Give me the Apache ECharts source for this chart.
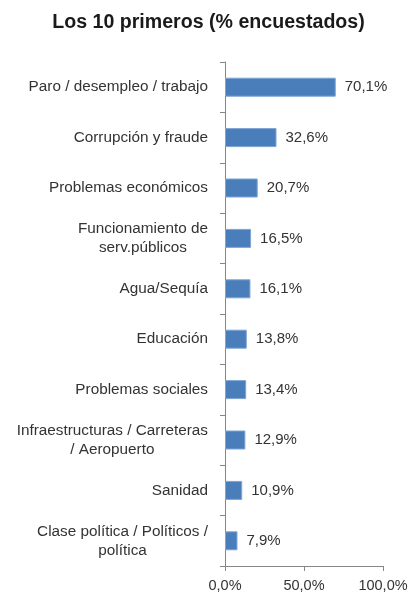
<!DOCTYPE html>
<html lang="es">
  <head>
    <meta charset="UTF-8" />
    <title>Los 10 primeros</title>
    <script src="https://cdn.jsdelivr.net/npm/echarts@6/dist/echarts.min.js"></script>
    <style>
      html, body { margin: 0; padding: 0; background: #fff; }
      #main { width: 417px; height: 598px; }
    </style>
  </head>
  <body>
    <div id="main"></div>
    <script>
      const categories = [
        'Paro / desempleo / trabajo',
        'Corrupción y fraude',
        'Problemas económicos',
        'Funcionamiento de\nserv.públicos',
        'Agua/Sequía',
        'Educación',
        'Problemas sociales',
        'Infraestructuras / Carreteras\n/ Aeropuerto',
        'Sanidad',
        'Clase política / Políticos /\npolítica'
      ]
      const values = [70.1, 32.6, 20.7, 16.5, 16.1, 13.8, 13.4, 12.9, 10.9, 7.9]
      const xTicks = [0, 50, 100]

      const fmt = (v) => v.toFixed(1).replace('.', ',') + '%'
      const font = 'Liberation Sans, Arial, sans-serif'

      const myChart = echarts.init(document.getElementById('main'))
      const option = {
        animation: false,
        title: {
          text: 'Los 10 primeros (% encuestados)',
          left: 'center',
          top: 8,
          textStyle: {
            fontFamily: font,
            fontSize: 19.6,
            fontWeight: 'bold',
            color: '#1a1a1a'
          }
        },
        grid: { left: 225, right: 34, top: 62, bottom: 32 },
        xAxis: {
          type: 'value',
          min: xTicks[0],
          max: xTicks[xTicks.length - 1],
          interval: 50,
          splitLine: { show: false },
          axisLine: { show: true, lineStyle: { color: '#868686' } },
          axisTick: { show: true, length: 5, lineStyle: { color: '#868686' } },
          axisLabel: {
            margin: 12,
            fontFamily: font,
            fontSize: 14.5,
            color: '#333',
            formatter: (v) => fmt(v)
          }
        },
        yAxis: {
          type: 'category',
          data: categories,
          inverse: true,
          axisLine: { show: true, lineStyle: { color: '#868686' } },
          axisTick: { show: true, length: 5, lineStyle: { color: '#868686' } },
          axisLabel: {
            margin: 17,
            fontFamily: font,
            fontSize: 15.3,
            color: '#333',
            lineHeight: 19,
            formatter: (v) => v.split('\n').map((l) => '{c|' + l + '}').join('\n'),
            rich: {
              c: {
                align: 'center',
                fontFamily: font,
                fontSize: 15.3,
                color: '#333',
                lineHeight: 19
              }
            }
          }
        },
        series: [
          {
            type: 'bar',
            data: values,
            barWidth: 19,
            itemStyle: {
              color: '#4a7ebb',
              borderColor: '#7fa5d6',
              borderWidth: 1
            },
            label: {
              show: true,
              position: 'right',
              distance: 9,
              fontFamily: font,
              fontSize: 15,
              color: '#333',
              formatter: (p) => fmt(p.value)
            }
          }
        ]
      }
      myChart.setOption(option)
    </script>
  </body>
</html>
